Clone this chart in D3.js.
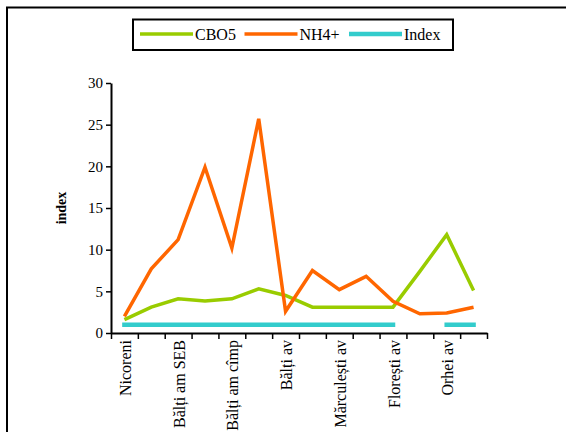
<!DOCTYPE html>
<html>
<head>
<meta charset="utf-8">
<script src="https://cdn.jsdelivr.net/npm/d3@7"></script>
<style>
  html, body { margin: 0; padding: 0; background: #fff; }
  svg { display: block; }
  svg text { font-family: "Liberation Serif", "Times New Roman", serif; }
</style>
</head>
<body>
<svg id="chart" width="566" height="435"></svg>
<script>
// Sampling stations (only every other station name is printed on the axis)
const categories = ["Nicoreni", "", "Bălți am SEB", "", "Bălți am cîmp", "", "Bălți av", "",
                    "Mărculești av", "", "Florești av", "", "Orhei av", ""];
const cbo5  = [1.6, 3.1, 4.1, 3.85, 4.1, 5.3, 4.5, 3.1, 3.1, 3.1, 3.1, 7.4, 11.8, 5.1];
const nh4   = [2.0, 7.7, 11.2, 19.9, 10.2, 25.7, 2.6, 7.5, 5.2, 6.8, 3.8, 2.3, 2.4, 3.1];
const index = [1, 1, 1, 1, 1, 1, 1, 1, 1, 1, 1, null, 1, 1];
const yTicks = [0, 5, 10, 15, 20, 25, 30];

const series = [
  { name: "CBO5",  values: cbo5,  color: "#99cc00", width: 3.5, cap: "butt" },
  { name: "NH4+",  values: nh4,   color: "#ff6600", width: 3.5, cap: "butt" },
  { name: "Index", values: index, color: "#33cccc", width: 4.5, cap: "square" }
];

const FONT = "'Liberation Serif', 'Times New Roman', serif";
const svg = d3.select("#chart");
const plotLeft = 111, plotRight = 487, plotTop = 83, plotBottom = 333;

// outer frame (top and left edges)
svg.append("path")
  .attr("d", "M7,432 V7.5 H566")
  .attr("fill", "none").attr("stroke", "#000").attr("stroke-width", 2);

const idx = d3.range(categories.length);
const x = d3.scaleBand().domain(idx).range([plotLeft, plotRight]).padding(0);
const xEdge = d3.scaleLinear().domain([0, categories.length]).range([plotLeft, plotRight]);
const y = d3.scaleLinear().domain([0, 30]).range([plotBottom, plotTop]);

// y axis
const yAxis = svg.append("g")
  .attr("transform", `translate(${plotLeft},0)`)
  .call(d3.axisLeft(y).tickValues(yTicks).tickSize(5).tickSizeOuter(0).tickPadding(3));
yAxis.attr("font-family", FONT).attr("font-size", 15);
yAxis.select(".domain").attr("stroke-width", 2);
yAxis.selectAll(".tick line").attr("stroke-width", 1.5);
yAxis.selectAll("text").attr("fill", "#000");

// x axis: tick marks between categories
const xAxis = svg.append("g")
  .attr("transform", `translate(0,${plotBottom})`)
  .call(d3.axisBottom(xEdge).tickValues(d3.range(categories.length + 1)).tickSize(6).tickSizeOuter(0).tickFormat(""));
xAxis.select(".domain").attr("stroke-width", 2);
xAxis.selectAll(".tick line").attr("stroke-width", 1.5);

// x labels at category centres, rotated
const xLab = svg.append("g")
  .attr("transform", `translate(0,${plotBottom})`)
  .call(d3.axisBottom(x).tickSize(0).tickFormat(i => categories[i]));
xLab.attr("font-family", FONT).attr("font-size", 16);
xLab.select(".domain").remove();
xLab.selectAll("text")
  .attr("fill", "#000")
  .attr("text-anchor", "end")
  .attr("transform", "rotate(-90)")
  .attr("x", -7).attr("y", 1).attr("dy", "0.35em");

// y axis title
svg.append("text")
  .attr("transform", `translate(66,${(plotTop + plotBottom) / 2}) rotate(-90)`)
  .attr("text-anchor", "middle")
  .attr("font-family", FONT).attr("font-weight", "bold").attr("font-size", 14)
  .text("index");

// series lines
const line = d3.line()
  .defined(d => d.v != null)
  .x(d => x(d.i) + x.bandwidth() / 2)
  .y(d => y(d.v));

series.forEach(s => {
  svg.append("path")
    .datum(s.values.map((v, i) => ({ i, v })))
    .attr("fill", "none")
    .attr("stroke", s.color)
    .attr("stroke-width", s.width)
    .attr("stroke-linecap", s.cap)
    .attr("stroke-linejoin", "miter")
    .attr("stroke-miterlimit", 4)
    .attr("d", line);
});

// legend
const legend = svg.append("g");
legend.append("rect")
  .attr("x", 133).attr("y", 19.5).attr("width", 320).attr("height", 30.5)
  .attr("fill", "#fff").attr("stroke", "#000").attr("stroke-width", 2);
const legendX = d3.scalePoint().domain(series.map(s => s.name)).range([140, 349]);
series.forEach(s => {
  const x0 = legendX(s.name);
  legend.append("line")
    .attr("x1", x0).attr("x2", x0 + 53).attr("y1", 34).attr("y2", 34)
    .attr("stroke", s.color).attr("stroke-width", s.width);
  legend.append("text")
    .attr("x", x0 + 55).attr("y", 40)
    .attr("font-family", FONT).attr("font-size", 16)
    .text(s.name);
});
</script>
</body>
</html>
